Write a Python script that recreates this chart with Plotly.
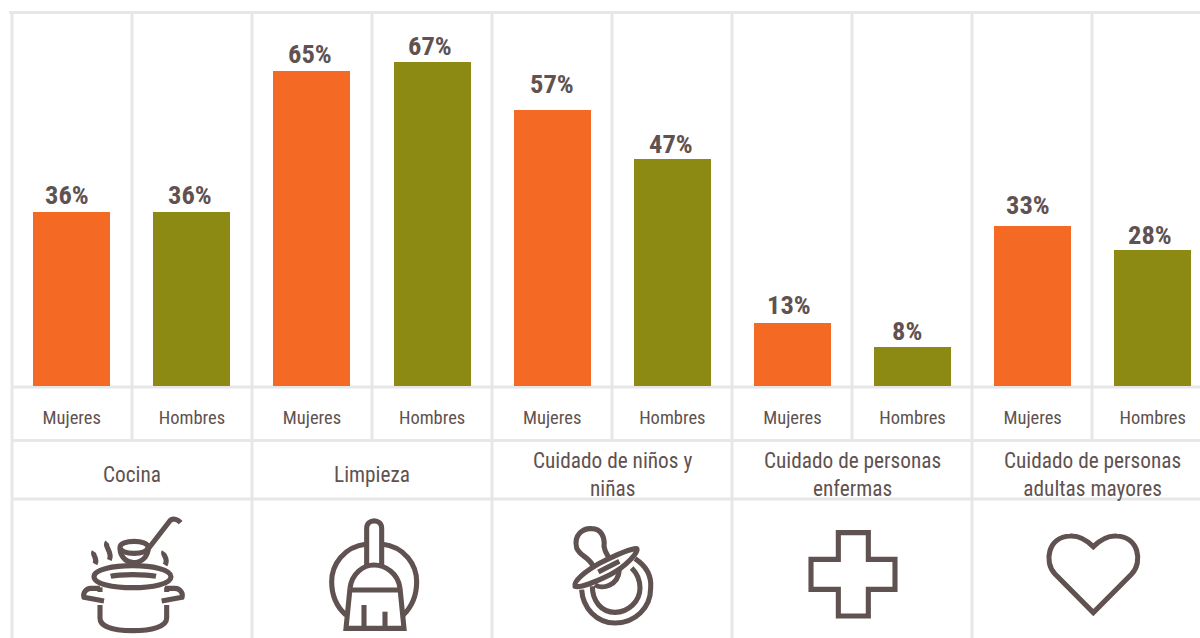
import re
import plotly.graph_objects as go

categories = ["Cocina", "Limpieza", "Cuidado de niños y<br>niñas",
              "Cuidado de personas<br>enfermas", "Cuidado de personas<br>adultas mayores"]
sexes = ["Mujeres", "Hombres"]
mujeres = [36, 65, 57, 13, 33]
hombres = [36, 67, 47, 8, 28]
label_nudge_m = [-5, -2, -0.5, -3, -5]
label_nudge_h = [-2, -2, -1, -5.5, -3]
label_lift_m = [0, 0, 9, 1, 4]
label_lift_h = [0, -1, -2, -1, -2]

W, H = 1200, 638
INK = "#5f5250"
GRID = "#e7e7e9"
ORANGE = "#f46a25"
OLIVE = "#8c8a13"
FONT = "Roboto Condensed, Roboto"
Y_TOP, Y_BASE = 13, 386
PX_PER_UNIT = 4.84

def px(x):
    return x / W
def py(y):
    return 1 - y / H

def to_paper(path, ox=0.0, oy=0.0, k=1.0):
    out, cmd = [], None
    toks = re.findall(r"[A-Z]|-?\d+\.?\d*", path)
    i = 0
    while i < len(toks):
        t = toks[i]
        if t.isalpha():
            cmd = t
            out.append(t)
            i += 1
        elif cmd == "H":
            out.append(f"{px(ox + float(t) / k):.5f}")
            i += 1
        elif cmd == "V":
            out.append(f"{py(oy + float(t) / k):.5f}")
            i += 1
        else:
            out.append(f"{px(ox + float(t) / k):.5f},{py(oy + float(toks[i + 1]) / k):.5f}")
            i += 2
    return " ".join(out)

shapes = []
def rule(x0, y0, x1, y1):
    shapes.append(dict(type="line", xref="paper", yref="paper", x0=px(x0), x1=px(x1),
                       y0=py(y0), y1=py(y1), line=dict(color=GRID, width=3), layer="below"))

for yy in (12.5, 387, 440.5, 499):
    rule(9 if yy == 12.5 else 11, yy, W, yy)
for n in range(0, 10):
    xx = 12 + 120 * n
    rule(xx, 12, xx, H if n % 2 == 0 else 440.5)

def icon(path, ox, oy, width=5.1, k=3.0):
    shapes.append(dict(type="path", xref="paper", yref="paper", path=to_paper(path, ox, oy, k),
                       line=dict(color=INK, width=width), layer="above"))

# pot
P = (70, 510)
for d in [
    "M72,200 C72,178 130,167 188,167 C246,167 303,178 303,200 C303,222 246,233 188,233 C130,233 72,222 72,200 Z",
    "M122,199 C150,192 225,192 258,199",
    "M90,232 V246", "M290,232 V246",
    "M90,285 V325 C90,350 130,362 188,362 C245,362 290,350 290,325 V285",
    "M90,235 H62 C48,235 38,250 42,262 L102,273",
    "M285,235 H315 C330,235 340,250 336,262 L275,273",
    "M150,112 C150,100 170,94 192,94 C215,94 234,100 234,112 C234,124 215,130 192,130 C170,130 150,124 150,112 Z",
    "M150,115 C150,145 175,158 190,158 C215,158 235,140 235,112",
    "M232,120 L300,32 C310,22 325,30 332,38",
    "M72,125 C65,135 85,145 75,162",
    "M112,97 C100,110 130,125 118,150",
    "M282,125 C275,135 298,145 285,165",
]:
    icon(d, *P)

# broom
P = (310, 510)
for d in [
    "M170,165 V55 C170,25 215,25 215,55 V165",
    "M120,235 C125,190 160,165 192,165 C225,165 265,190 270,235",
    "M120,240 H272",
    "M120,235 L108,355 H282 L270,235",
    "M162,285 V350", "M225,305 V350",
    "M170,102 C100,110 65,165 65,215 C65,255 80,290 108,315",
    "M215,102 C285,110 320,165 320,215 C320,255 305,290 280,315",
]:
    icon(d, *P)

# pacifier
P = (560, 518)
for d in [
    "M100,145 C85,115 60,115 50,90 C40,50 70,30 95,32 C125,32 135,60 132,85 C135,105 145,115 148,122",
    "M45,205 C40,190 75,160 120,135 C160,115 210,90 230,92 C238,100 200,145 150,170 C110,190 60,210 45,205 Z",
    "M225,122 C260,145 275,175 272,210 C272,270 225,315 165,315 C110,315 68,270 65,215",
    "M215,150 C235,170 240,190 240,210 C240,250 205,283 165,283 C125,283 97,250 97,205",
    "M105,200 C125,215 175,205 178,155",
    "M115,162 L178,130",
]:
    icon(d, *P)

# cross and heart
P = (780, 430)
icon("M175,308 H265 V388 H345 V478 H265 V558 H175 V478 H93 V388 H175 Z", *P)
icon("M940,548 L825,432 C790,395 805,320 870,318 C900,316 925,335 940,350 "
     "C955,335 980,316 1010,318 C1075,320 1090,395 1055,432 Z", *P)

groups = list(range(len(categories)))
x_m = [2 * g for g in groups]
x_h = [2 * g + 1 for g in groups]

fig = go.Figure()
for name, xs, vals, color in [(sexes[0], x_m, mujeres, ORANGE), (sexes[1], x_h, hombres, OLIVE)]:
    fig.add_bar(name=name, x=xs, y=vals, width=0.641, marker=dict(color=color, line_width=0),
                showlegend=False, hoverinfo="x+y")

annotations = []
for xs, vals, nudges, lifts in [(x_m, mujeres, label_nudge_m, label_lift_m),
                                (x_h, hombres, label_nudge_h, label_lift_h)]:
    for x, v, s, l in zip(xs, vals, nudges, lifts):
        annotations.append(dict(x=x, y=v, xref="x", yref="y", text=f"{v}%", showarrow=False,
                                yanchor="bottom", xshift=s, yshift=l,
                                font=dict(family=FONT, size=26.5, color=INK, weight=700)))
for g, cat in zip(groups, categories):
    annotations.append(dict(x=px(132 + 240 * g), y=py(474), xref="paper", yref="paper", text=cat,
                            showarrow=False, yanchor="middle", xanchor="center",
                            font=dict(family=FONT, size=21.3, color=INK)))

fig.update_layout(
    width=W, height=H, margin=dict(l=0, r=0, t=0, b=0), bargap=0,
    paper_bgcolor="white", plot_bgcolor="white", shapes=shapes, annotations=annotations,
    xaxis=dict(range=[-0.5975, 9.3933], tickmode="array", tickvals=x_m + x_h,
               ticktext=[sexes[0]] * len(x_m) + [sexes[1]] * len(x_h),
               ticks="outside", ticklen=15, tickcolor="rgba(0,0,0,0)", showgrid=False, zeroline=False,
               showline=False, tickfont=dict(family=FONT, size=18.5, color=INK), fixedrange=True),
    yaxis=dict(domain=[py(Y_BASE), py(Y_TOP)], range=[0, (Y_BASE - Y_TOP) / PX_PER_UNIT], visible=False,
               fixedrange=True),
)
fig.write_html("out.html", config=dict(displayModeBar=False),
               post_script="document.body.style.margin='0';"
                           "document.querySelectorAll('svg text').forEach(function(t){t.style.fontStretch='75%';});")
